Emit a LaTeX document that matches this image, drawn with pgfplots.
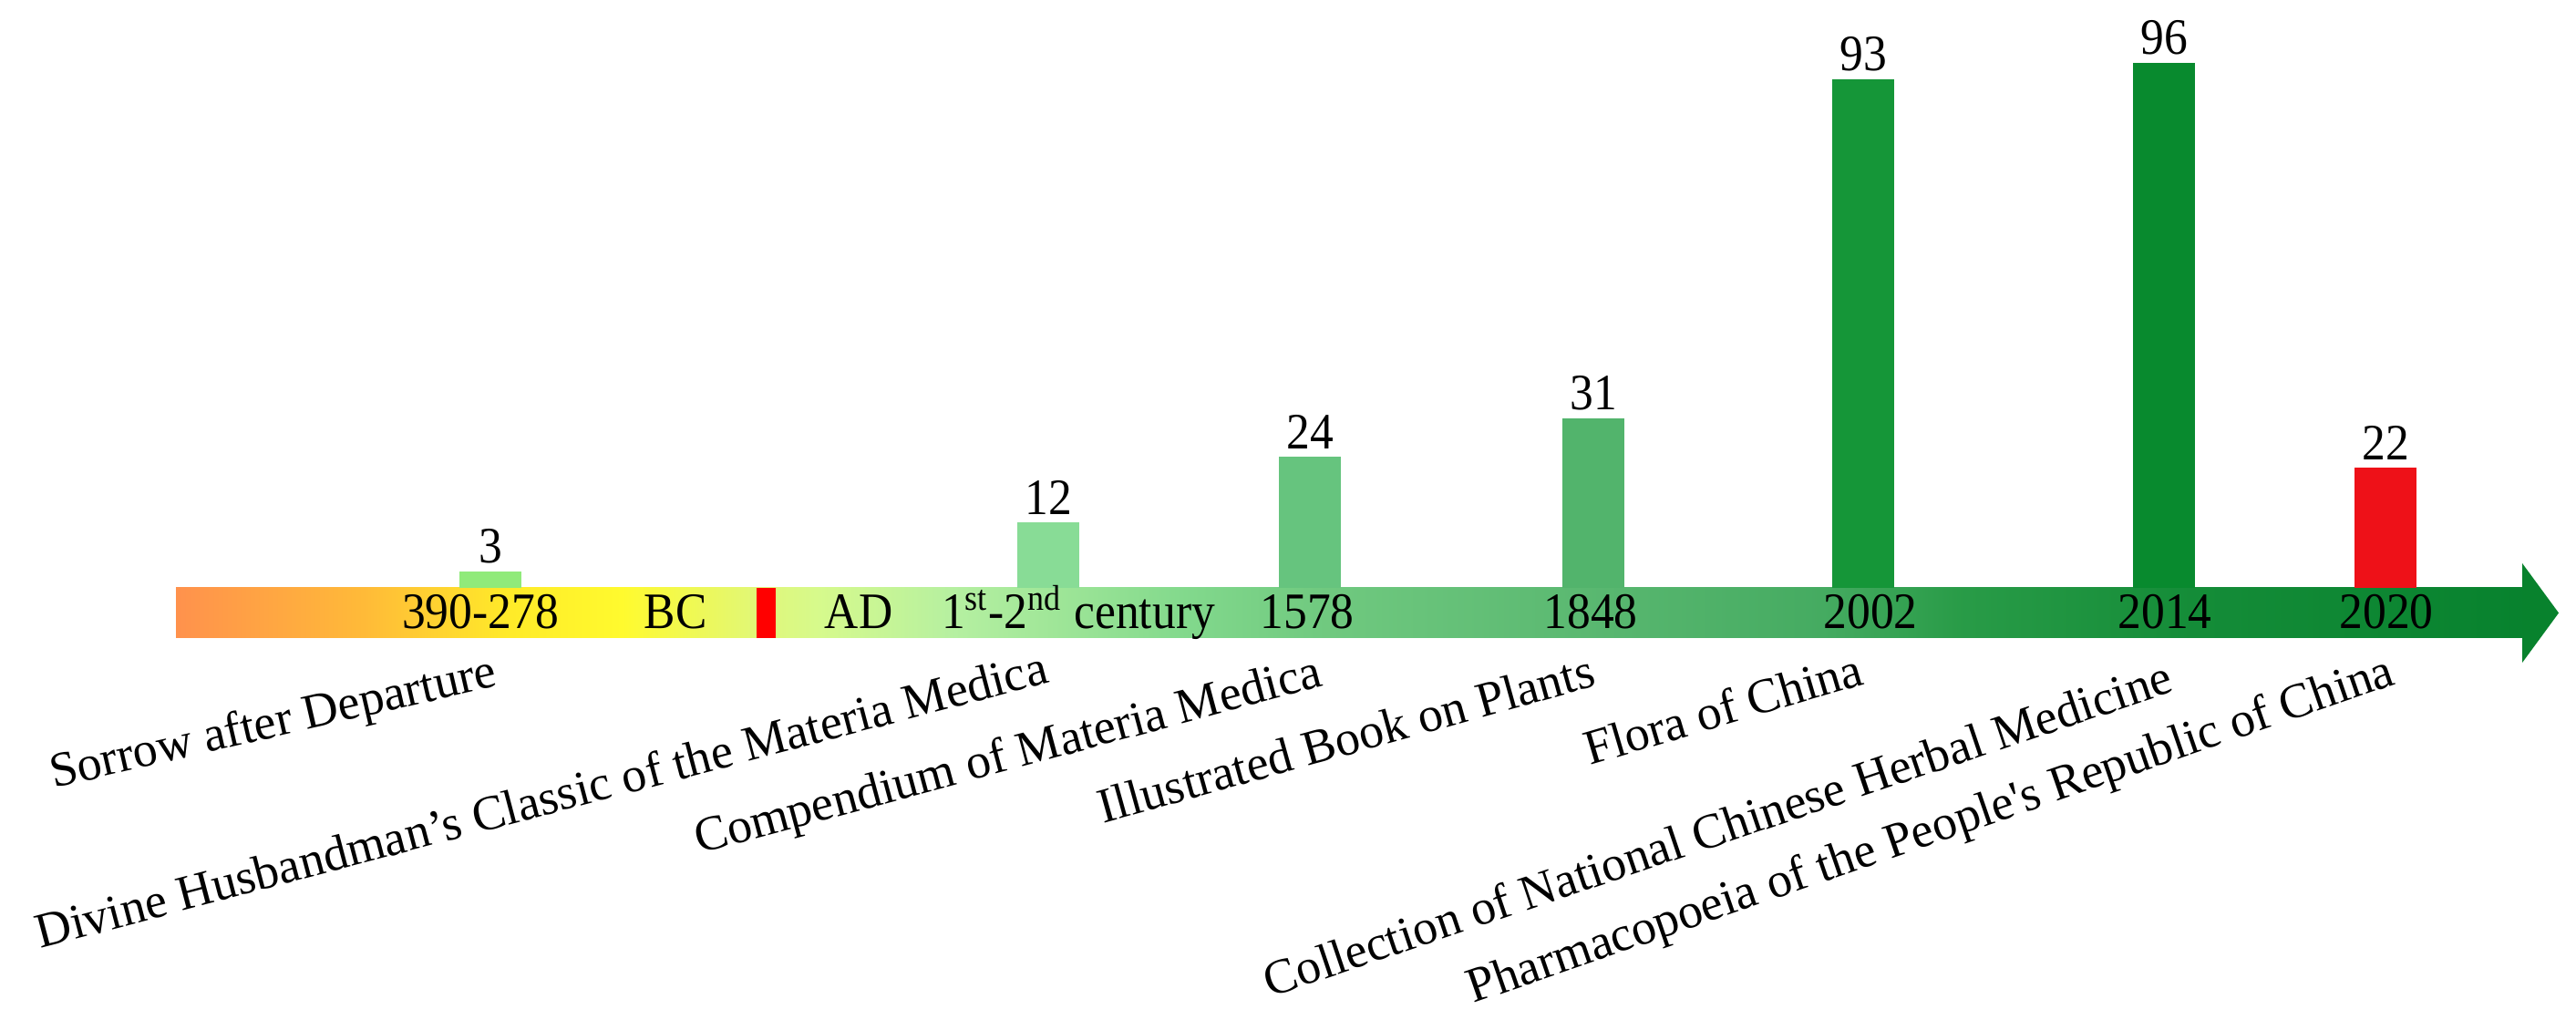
\documentclass[border=0pt]{standalone}
\usepackage{pgfplots}
\pgfplotsset{compat=1.18}
\usepackage{fontspec}
\setmainfont{Liberation Serif}
\definecolor{b1}{RGB}{144,234,122}
\definecolor{b2}{RGB}{136,220,150}
\definecolor{b3}{RGB}{102,196,126}
\definecolor{b4}{RGB}{82,180,108}
\definecolor{b5}{RGB}{21,150,56}
\definecolor{b6}{RGB}{8,138,46}
\definecolor{b7}{RGB}{238,17,24}
\definecolor{arrowgreen}{RGB}{8,130,45}
\pgfdeclarehorizontalshading{bandshade}{100bp}{%
rgb(0bp)=(1,0.57,0.30);
rgb(25bp)=(1,0.57,0.30);
rgb(29bp)=(1,0.73,0.22);
rgb(32.1bp)=(1,0.92,0.16);
rgb(34.5bp)=(1,0.98,0.18);
rgb(37.4bp)=(0.88,0.97,0.47);
rgb(38.7bp)=(0.84,0.98,0.55);
rgb(41.6bp)=(0.71,0.94,0.63);
rgb(46.5bp)=(0.51,0.85,0.55);
rgb(49.4bp)=(0.44,0.79,0.50);
rgb(55.2bp)=(0.35,0.72,0.44);
rgb(60.1bp)=(0.27,0.67,0.38);
rgb(63bp)=(0.16,0.61,0.28);
rgb(67.9bp)=(0.08,0.55,0.22);
rgb(75bp)=(0.03,0.51,0.18);
rgb(100bp)=(0.03,0.51,0.18)}
\pgfplotsset{mybar/.style={ybar, bar shift=0pt, bar width=17pt, draw=none, fill=#1,
  nodes near coords, nodes near coords style={black, inner sep=2pt, xscale=0.92, font=\fontsize{14}{16}\selectfont}}}
\begin{document}
\begin{tikzpicture}[font=\fontsize{14}{16}\selectfont,
  nm/.style={anchor=base east, inner sep=0pt, rotate=#1, font=\fontsize{13.5}{16}\selectfont},
  bl/.style={anchor=base, inner sep=0pt, xscale=0.92}]
\begin{axis}[
  scale only axis, width=706.5pt, height=282.5pt,
  xmin=0, xmax=2826, ymin=-80.8333, ymax=107.5,
  hide axis, clip=false,
  /pgf/number format/assume math mode=true,
]
% band and arrow
\path[shading=bandshade] (axis cs:193,0) rectangle (axis cs:2768,-9.1667);
\fill[arrowgreen] (axis cs:2767,4.5) -- (axis cs:2807,-4.58) -- (axis cs:2767,-13.67) -- cycle;
\fill[red] (axis cs:830,0) rectangle (axis cs:851,-9.1667);
% bars
\addplot[mybar=b1] coordinates {(538,3)};
\addplot[mybar=b2] coordinates {(1150,12)};
\addplot[mybar=b3] coordinates {(1437,24)};
\addplot[mybar=b4] coordinates {(1748,31)};
\addplot[mybar=b5] coordinates {(2044,93)};
\addplot[mybar=b6] coordinates {(2374,96)};
\addplot[mybar=b7] coordinates {(2617,22)};
% band labels
\node[bl] at (axis cs:527,-7.5) {390-278};
\node[bl] at (axis cs:741,-7.5) {BC};
\node[bl] at (axis cs:942,-7.5) {AD};
\node[bl] at (axis cs:1183,-7.5) {1\textsuperscript{st}-2\textsuperscript{nd} century};
\node[bl] at (axis cs:1434,-7.5) {1578};
\node[bl] at (axis cs:1745,-7.5) {1848};
\node[bl] at (axis cs:2052,-7.5) {2002};
\node[bl] at (axis cs:2375,-7.5) {2014};
\node[bl] at (axis cs:2618,-7.5) {2020};
% rotated names
\node[nm=13] at (axis cs:548,-17.83) {Sorrow after Departure};
\node[nm=14.8] at (axis cs:1153,-17.17) {Divine Husbandman’s Classic of the Materia Medica};
\node[nm=15.1] at (axis cs:1453,-17.83) {Compendium of Materia Medica};
\node[nm=15.6] at (axis cs:1753,-17.83) {Illustrated Book on Plants};
\node[nm=16.5] at (axis cs:2047,-17.5) {Flora of China};
\node[nm=18.7] at (axis cs:2387,-18.83) {Collection of National Chinese Herbal Medicine};
\node[nm=19.1] at (axis cs:2630,-17.5) {Pharmacopoeia of the People\textquotesingle s Republic of China};
\path (axis cs:0,-80.8333) rectangle (axis cs:2826,107.5);
\end{axis}
\end{tikzpicture}
\end{document}
